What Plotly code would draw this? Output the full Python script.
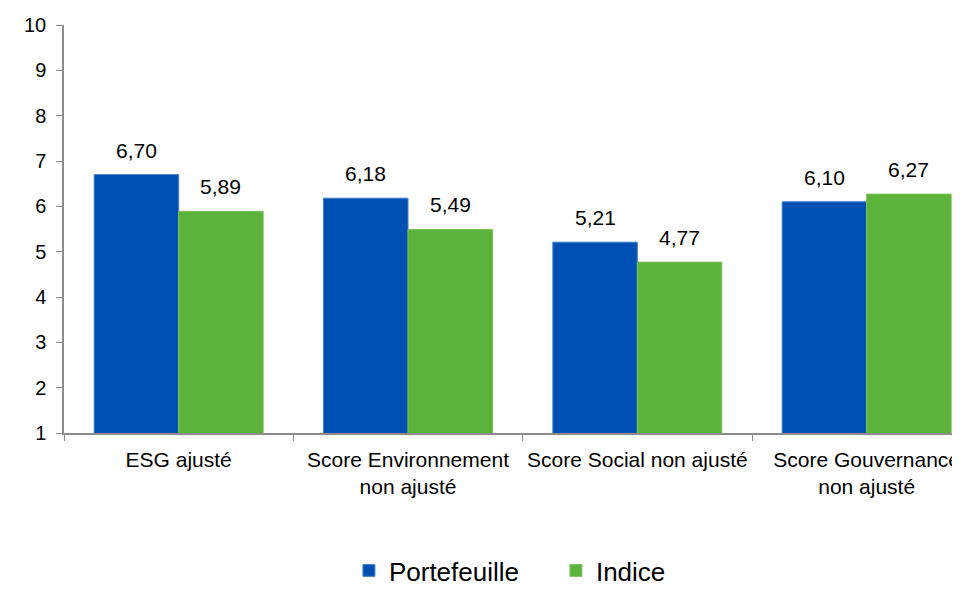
import plotly.graph_objects as go

categories = ["ESG ajusté", "Score Environnement<br>non ajusté", "Score Social non ajusté", "Score Gouvernance<br>non ajusté"]
portefeuille = [6.70, 6.18, 5.21, 6.10]
indice = [5.89, 5.49, 4.77, 6.27]
series_names = ["Portefeuille", "Indice"]
y_ticks = [1, 2, 3, 4, 5, 6, 7, 8, 9, 10]

BLUE = "#0050B4"
GREEN = "#5BB33B"
FONT = "Liberation Sans, Arial, sans-serif"
BARGAP = 0.263

fig = go.Figure()
fig.add_trace(go.Bar(x=categories, y=portefeuille, name=series_names[0],
                     marker=dict(color=BLUE, line=dict(color="#4A80C8", width=1))))
fig.add_trace(go.Bar(x=categories, y=indice, name=series_names[1],
                     marker=dict(color=GREEN, line=dict(color="#7CC25C", width=1))))

off = (1 - BARGAP) / 4
for i, (p, q) in enumerate(zip(portefeuille, indice)):
    for dx, v in ((-off, p), (off, q)):
        fig.add_annotation(x=i + dx, y=v, text=f"{v:.2f}".replace(".", ","),
                           showarrow=False, yanchor="bottom", yshift=11,
                           font=dict(size=21, color="#000", family=FONT))

fig.update_layout(
    width=952, height=586,
    margin=dict(l=56, r=0, t=17, b=161),
    paper_bgcolor="white", plot_bgcolor="white",
    barmode="group", bargap=BARGAP, bargroupgap=0,
    font=dict(family=FONT, size=21, color="#000"),
    showlegend=True,
    legend=dict(orientation="h", x=0.318, xanchor="left", y=-0.337, yanchor="middle",
                font=dict(size=26), entrywidth=162, entrywidthmode="pixels",
                traceorder="normal"),
)
fig.update_xaxes(type="category", range=[-0.5, 3.407], showline=True, linecolor="#8C8C8C",
                 linewidth=1.5, ticks="outside", tickson="boundaries", ticklen=6,
                 tickcolor="#8C8C8C", showgrid=False, tickfont=dict(size=21),
                 tickangle=0, automargin=False, ticklabelstandoff=7)
fig.update_yaxes(range=[1, 10], tickvals=y_ticks, showline=True, linecolor="#8C8C8C",
                 linewidth=1.5, ticks="outside", ticklen=6, tickcolor="#8C8C8C",
                 showgrid=False, zeroline=False, tickfont=dict(size=20), ticklabelstandoff=6,
                 automargin=False)

fig.write_html("out.html")
